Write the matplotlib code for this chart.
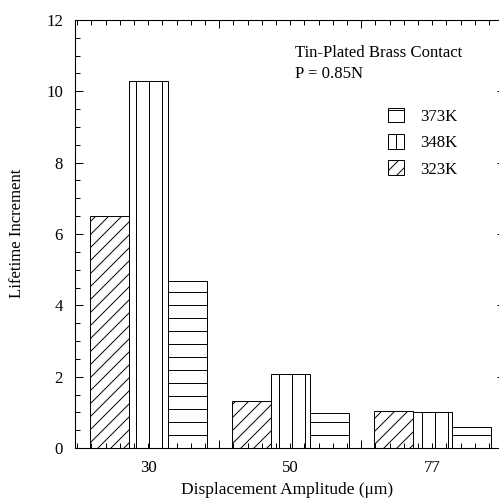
import numpy as np
import matplotlib
matplotlib.use('Agg')
import matplotlib.pyplot as plt
from matplotlib.ticker import MultipleLocator, FixedLocator, NullFormatter

# data
amplitudes = ['30', '50', '77']
temps = ['323K', '348K', '373K']
life_323 = [6.5, 1.33, 1.04]
life_348 = [10.3, 2.07, 1.0]
life_373 = [4.67, 0.97, 0.58]
hatches = ['//', '|', '-']

plt.rcParams['font.family'] = ['Liberation Serif', 'DejaVu Serif']
plt.rcParams['hatch.linewidth'] = 0.9

DPI = 78
FS = 15.5
fig = plt.figure(figsize=(499 / DPI, 498 / DPI), dpi=DPI)
ax = fig.add_axes([75 / 499, 50 / 498, 430.3 / 499, 428 / 498])

x = np.arange(len(amplitudes))
w = 0.275
handles = []
for k, (vals, h, lab) in enumerate(zip([life_323, life_348, life_373], hatches, temps)):
    b = ax.bar(x + (k - 1) * w, vals, w, color='white', edgecolor='black',
               hatch=h, linewidth=0.9, label=lab)
    handles.append(b)

ax.set_xlim(-0.515, 2.515)
ax.set_ylim(0, 12)

# x ticks: long ones between groups, short every 0.1
ax.xaxis.set_major_locator(FixedLocator([0.5, 1.5]))
ax.xaxis.set_major_formatter(NullFormatter())
ax.xaxis.set_minor_locator(MultipleLocator(0.1))
ax.yaxis.set_major_locator(MultipleLocator(2))
ax.yaxis.set_minor_locator(MultipleLocator(0.5))
ax.tick_params(which='both', direction='in', top=True, right=True, width=0.9)
ax.tick_params(which='major', length=7.4)
ax.tick_params(which='minor', length=4.6)
ax.tick_params(axis='y', labelsize=FS, pad=11)
for s in ax.spines.values():
    s.set_linewidth(1.0)

# group labels
sec = ax.secondary_xaxis('bottom')
sec.set_xticks(x, amplitudes)
sec.tick_params(length=0, labelsize=FS, pad=11)
sec.spines['bottom'].set_visible(False)

fig.text(287 / 499, 1 - 490 / 498, 'Displacement Amplitude (μm)',
         ha='center', va='center', fontsize=16)
fig.text(17 / 499, 1 - 233 / 498, 'Lifetime Increment', rotation=90,
         ha='center', va='center', fontsize=FS)

fig.text(295 / 499, 1 - 57 / 498, 'Tin-Plated Brass Contact',
         ha='left', va='baseline', fontsize=FS)
fig.text(295 / 499, 1 - 78 / 498, 'P = 0.85N',
         ha='left', va='baseline', fontsize=FS)

ax.legend(handles[::-1], temps[::-1], loc='upper left',
          bbox_to_anchor=(388 / 499, 1 - 108 / 498),
          bbox_transform=fig.transFigure, frameon=False, fontsize=FS,
          handlelength=0.95, handleheight=0.95, handletextpad=0.95,
          labelspacing=0.55, borderpad=0, borderaxespad=0)

fig.savefig('out.png', dpi=DPI)
